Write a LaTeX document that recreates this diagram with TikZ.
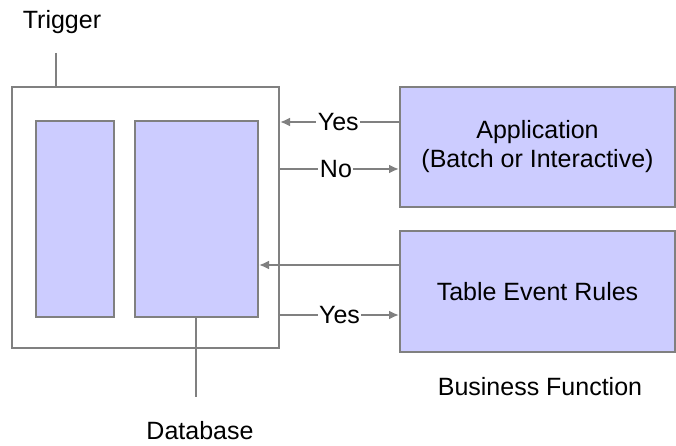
\documentclass[tikz,border=0pt]{standalone}
\usepackage{fontspec}
\setmainfont{Liberation Sans}
\usetikzlibrary{arrows.meta}
\definecolor{boxfill}{HTML}{CCCCFF}
\definecolor{linegray}{HTML}{808080}
\begin{document}
\begin{tikzpicture}[x=1pt,y=-1pt,
  box/.style={draw=linegray,line width=2pt,fill=boxfill,inner sep=0pt},
  frame/.style={draw=linegray,line width=2pt,fill=white,inner sep=0pt},
  conn/.style={draw=linegray,line width=2pt},
  arr/.style={conn,-{Latex[length=10pt,width=9pt]}},
  lbl/.style={fill=white,inner sep=1.5pt,font=\fontsize{25}{29}\selectfont},
  txt/.style={font=\fontsize{25}{29}\selectfont,align=center,inner sep=0pt}]
\useasboundingbox (0,0) rectangle (676,446);
% outer trigger box
\node[frame,minimum width=267pt,minimum height=261pt,anchor=north west] (outer) at (11,86) {};
\node[box,minimum width=78pt,minimum height=196pt,anchor=north west] (left) at (35,120) {};
\node[box,minimum width=123pt,minimum height=196pt,anchor=north west] (db) at (134,120) {};
% right boxes
\node[box,minimum width=275pt,minimum height=120pt,anchor=north west,txt] (app) at (399,86) {Application\\(Batch or Interactive)};
\node[box,minimum width=275pt,minimum height=121pt,anchor=north west,txt] (ter) at (399,230) {Table Event Rules};
% labels
\node[txt] (trig) at (62,22) {Trigger};
\coordinate (trigtop) at (56,53);
\draw[conn] (trigtop) -- (trigtop |- outer.north);
\node[txt] (dbl) at (200,431) {Database};
\coordinate (dbbot) at (196,397);
\draw[conn] (dbbot |- db.south) -- (dbbot);
\node[txt] (bf) at (540,387) {Business Function};
% connectors
\draw[arr] (app.west |- 0,122) -- node[lbl,pos=0.51] {Yes} (outer.east |- 0,122);
\draw[arr] (outer.east |- 0,169) -- node[lbl,pos=0.47] {No} (app.west |- 0,169);
\draw[arr] (ter.west |- 0,265) -- (db.east |- 0,265);
\draw[arr] (outer.east |- 0,315) -- node[lbl,pos=0.5] {Yes} (ter.west |- 0,315);
\end{tikzpicture}
\end{document}
